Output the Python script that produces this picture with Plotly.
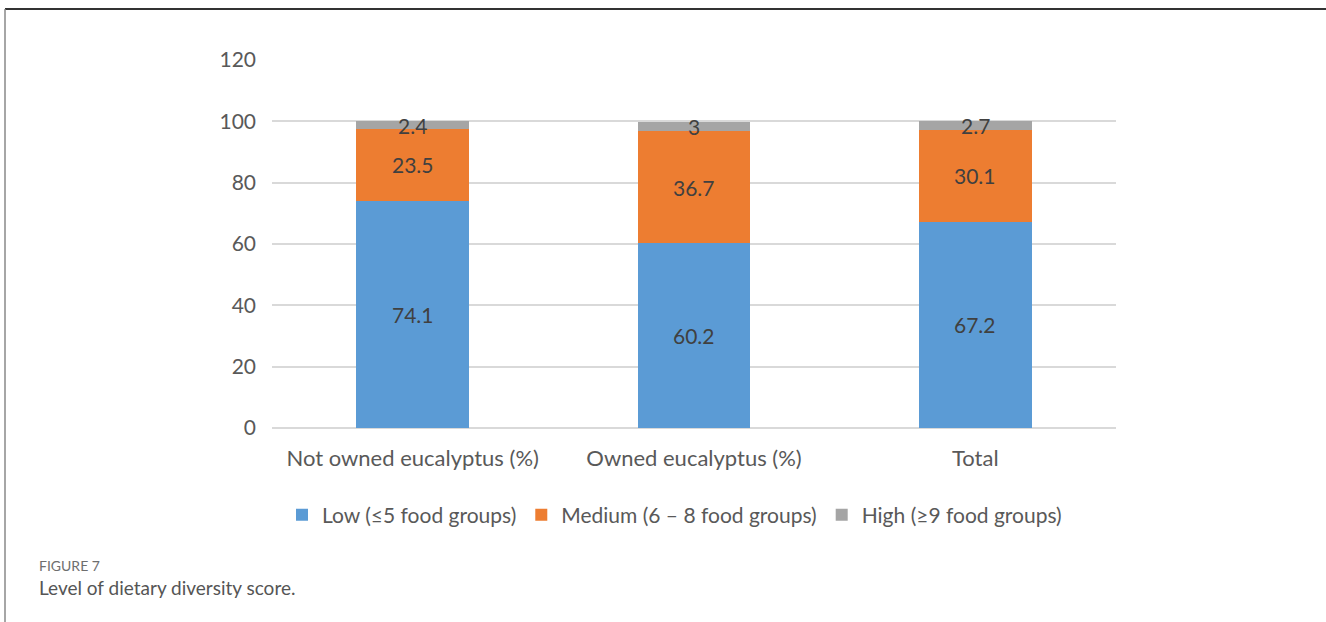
import plotly.graph_objects as go

categories = ["Not owned eucalyptus (%)", "Owned eucalyptus (%)", "Total"]
low = [74.1, 60.2, 67.2]
medium = [23.5, 36.7, 30.1]
high = [2.4, 3, 2.7]
series_names = ["Low (≤5 food groups)", "Medium (6 – 8 food groups)", "High (≥9 food groups)"]
colors = ["#5B9BD5", "#ED7D31", "#A5A5A5"]
y_ticks = [0, 20, 40, 60, 80, 100, 120]

FONT = "Lato"
W, H = 1326, 622
L, R, T, B = 272, 210, 60, 194
pw, ph = W - L - R, H - T - B

def px_to_paper_x(px):
    return (px - L) / pw

def px_to_paper_y(py):
    return (H - B - py) / ph

fig = go.Figure()
series = [low, medium, high]
for name, vals, col in zip(series_names, series, colors):
    fig.add_trace(go.Bar(x=categories, y=vals, name=name, marker=dict(color=col, line=dict(width=0)),
                         width=0.4))

# data labels at segment midpoints
for i, cat in enumerate(categories):
    base = 0
    for vals in series:
        v = vals[i]
        fig.add_annotation(x=cat, y=base + v / 2, text=f"{v:g}", showarrow=False,
                           font=dict(family=FONT, size=21, color="#404040"), xref="x", yref="y")
        base += v

# frame around figure
fig.add_shape(type="line", xref="paper", yref="paper",
              x0=px_to_paper_x(5), x1=px_to_paper_x(1330), y0=px_to_paper_y(9), y1=px_to_paper_y(9),
              line=dict(color="#333333", width=2))
fig.add_shape(type="line", xref="paper", yref="paper",
              x0=px_to_paper_x(5), x1=px_to_paper_x(5), y0=px_to_paper_y(9), y1=px_to_paper_y(630),
              line=dict(color="#888888", width=1.5))

# caption
fig.add_annotation(xref="paper", yref="paper", x=px_to_paper_x(37), y=px_to_paper_y(565),
                   xanchor="left", yanchor="middle", showarrow=False, text="FIGURE 7",
                   font=dict(family=FONT, size=14, color="#6E6E6E"))
fig.add_annotation(xref="paper", yref="paper", x=px_to_paper_x(37), y=px_to_paper_y(587),
                   xanchor="left", yanchor="middle", showarrow=False, text="Level of dietary diversity score.",
                   font=dict(family=FONT, size=19, color="#555555"))

fig.update_layout(
    width=W, height=H,
    margin=dict(l=L, r=R, t=T, b=B, pad=0),
    barmode="stack",
    plot_bgcolor="white", paper_bgcolor="white",
    font=dict(family=FONT, size=20, color="#595959"),
    showlegend=True,
    legend=dict(orientation="h", x=px_to_paper_x(282), xanchor="left", y=px_to_paper_y(515), yanchor="middle",
                font=dict(family=FONT, size=21, color="#595959"), traceorder="normal",
                itemsizing="constant", itemwidth=30),
    bargap=0.6,
)
fig.update_xaxes(range=[-0.5, 2.5], showline=False, ticks="", showgrid=False,
                 tickfont=dict(family=FONT, size=22, color="#595959"), ticklabelstandoff=15)
fig.update_yaxes(range=[0, 120], tickvals=y_ticks, showgrid=True, gridcolor="#D9D9D9", gridwidth=1.5,
                 zeroline=True, zerolinecolor="#D9D9D9", zerolinewidth=1.5, showline=False,
                 tickfont=dict(family=FONT, size=21, color="#595959"), ticklabelstandoff=15)

fig.write_html("out.html")
